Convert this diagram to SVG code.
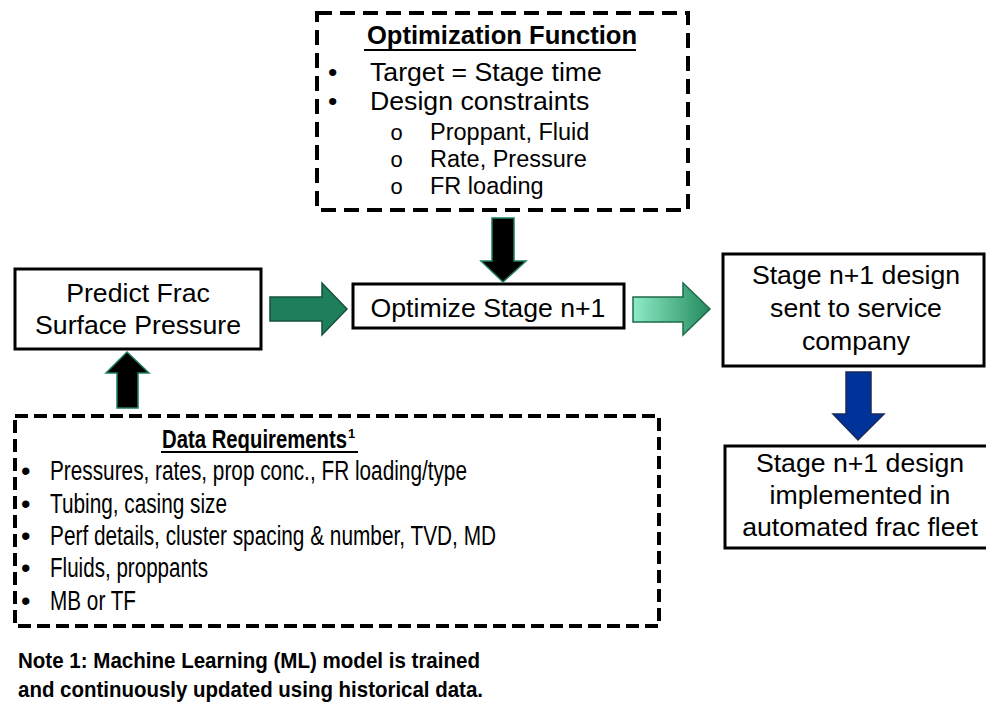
<svg xmlns="http://www.w3.org/2000/svg" width="986" height="709" viewBox="0 0 986 709">
<style>
  .box { fill: #ffffff; stroke: #000000; stroke-width: 3; }
  .dash1 { fill: #ffffff; stroke: #000000; stroke-width: 4; stroke-dasharray: 15 8; }
  .dash2 { fill: #ffffff; stroke: #000000; stroke-width: 4; stroke-dasharray: 13 6; }
  .t { font-family: "Liberation Sans", Arial, sans-serif; font-size: 26.67px; fill: #000000; }
  .tc { text-anchor: middle; }
  .ttl { font-family: "Liberation Sans", Arial, sans-serif; font-size: 25.6px; font-weight: bold; fill: #000000; }
  .sub { font-family: "Liberation Sans", Arial, sans-serif; font-size: 23.5px; fill: #000000; }
  .ob { font-family: "Liberation Mono", "Courier New", monospace; font-size: 22px; fill: #000000; }
  .nar { font-family: "Liberation Sans Narrow", "Arial Narrow", "Liberation Sans", sans-serif; font-size: 27px; fill: #000000; }
  .narb { font-family: "Liberation Sans Narrow", "Arial Narrow", "Liberation Sans", sans-serif; font-size: 26px; font-weight: bold; fill: #000000; }
  .note { font-family: "Liberation Sans", Arial, sans-serif; font-size: 22px; font-weight: bold; fill: #000000; }
  .blk { fill: #000000; stroke: #1E7F5A; stroke-width: 1.5; }
  .grn { fill: #1E805A; stroke: #17503A; stroke-width: 1.5; }
</style>
<defs>
  <linearGradient id="gg" x1="0" y1="0" x2="1" y2="0">
    <stop offset="0" stop-color="#8EEBC6"/>
    <stop offset="1" stop-color="#248A5E"/>
  </linearGradient>
</defs>

<g id="optimization-function">
  <rect class="dash1" x="317" y="13" width="371" height="197"/>
  <text class="ttl tc" x="502" y="44">Optimization Function</text>
  <line x1="364" y1="50" x2="636" y2="50" stroke="#000" stroke-width="2"/>
  <text class="t" x="328" y="81">•</text>
  <text class="t" x="370" y="81">Target = Stage time</text>
  <text class="t" x="328" y="110">•</text>
  <text class="t" x="370" y="110">Design constraints</text>
  <text class="ob" x="390" y="140">o</text>
  <text class="sub" x="430" y="140">Proppant, Fluid</text>
  <text class="ob" x="390" y="167">o</text>
  <text class="sub" x="430" y="167">Rate, Pressure</text>
  <text class="ob" x="390" y="194">o</text>
  <text class="sub" x="430" y="194">FR loading</text>
</g>

<g id="predict-frac">
  <rect class="box" x="15" y="269" width="246" height="80"/>
  <text class="t tc" x="138" y="302">Predict Frac</text>
  <text class="t tc" x="138" y="334">Surface Pressure</text>
</g>

<g id="optimize-stage">
  <rect class="box" x="353" y="284" width="271" height="44"/>
  <text class="t tc" x="488" y="317">Optimize Stage n+1</text>
</g>

<g id="design-sent">
  <rect class="box" x="723" y="254" width="261" height="112"/>
  <text class="t tc" x="856" y="284">Stage n+1 design</text>
  <text class="t tc" x="856" y="317">sent to service</text>
  <text class="t tc" x="856" y="350">company</text>
</g>

<g id="design-implemented">
  <rect class="box" x="725" y="446" width="266" height="102"/>
  <text class="t tc" x="860" y="472">Stage n+1 design</text>
  <text class="t tc" x="860" y="504">implemented in</text>
  <text class="t tc" x="860" y="536">automated frac fleet</text>
</g>

<g id="data-requirements">
  <rect class="dash2" x="15" y="416" width="644" height="210"/>
  <text class="narb" x="162" y="448"><tspan textLength="185" lengthAdjust="spacingAndGlyphs">Data Requirements</tspan><tspan dx="1" dy="-10" style="font-size:13px">1</tspan></text>
  <line x1="161" y1="452" x2="358" y2="452" stroke="#000" stroke-width="1.8"/>
  <text class="nar" x="21" y="480">•</text>
  <text class="nar" x="50" y="480" textLength="417" lengthAdjust="spacingAndGlyphs">Pressures, rates, prop conc., FR loading/type</text>
  <text class="nar" x="21" y="513">•</text>
  <text class="nar" x="50" y="513" textLength="177" lengthAdjust="spacingAndGlyphs">Tubing, casing size</text>
  <text class="nar" x="21" y="545">•</text>
  <text class="nar" x="50" y="545" textLength="446" lengthAdjust="spacingAndGlyphs">Perf details, cluster spacing &amp; number, TVD, MD</text>
  <text class="nar" x="21" y="577">•</text>
  <text class="nar" x="50" y="577" textLength="158" lengthAdjust="spacingAndGlyphs">Fluids, proppants</text>
  <text class="nar" x="21" y="610">•</text>
  <text class="nar" x="50" y="610" textLength="86" lengthAdjust="spacingAndGlyphs">MB or TF</text>
</g>

<g id="note">
  <text class="note" x="18" y="668" textLength="462" lengthAdjust="spacingAndGlyphs">Note 1: Machine Learning (ML) model is trained</text>
  <text class="note" x="18" y="697" textLength="465" lengthAdjust="spacingAndGlyphs">and continuously updated using historical data.</text>
</g>

<g id="connectors">
  <polygon class="blk" points="492,218 514,218 514,261 526,261 503,282 481,261 492,261"/>
  <polygon class="blk" points="117,408 138,408 138,373 149,373 127,352 106,373 117,373"/>
  <polygon class="grn" points="270,297 322,297 322,283 347,309 322,335 322,321 270,321"/>
  <polygon fill="url(#gg)" stroke="#1E6B4A" stroke-width="1.5" points="633,297 683,297 683,283 710,309 683,335 683,322 633,322"/>
  <polygon fill="#003399" stroke="#1A2A5A" stroke-width="1.5" points="846,372 871,372 871,414 884,414 858,440 833,414 846,414"/>
</g>
</svg>
